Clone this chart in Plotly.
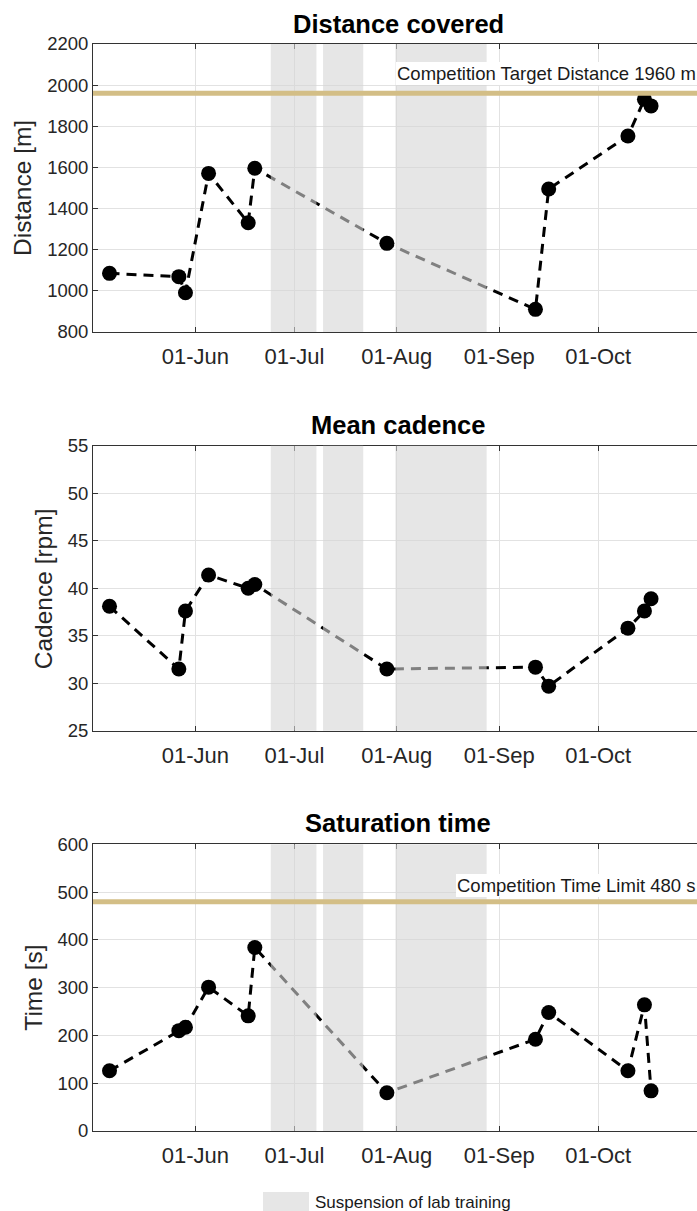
import plotly.graph_objects as go

# ---------------- data ----------------
session_dates = ["2020-05-06", "2020-05-27", "2020-05-29", "2020-06-05", "2020-06-17",
                 "2020-06-19", "2020-07-29", "2020-09-12", "2020-09-16", "2020-10-10",
                 "2020-10-15", "2020-10-17"]
distance_m = [1085, 1069, 991, 1571, 1331, 1596, 1231, 910, 1495, 1753, 1931, 1899]
cadence_rpm = [38.1, 31.5, 37.6, 41.4, 40.0, 40.4, 31.5, 31.7, 29.7, 35.8, 37.6, 38.9]
saturation_s = [126, 210, 217, 301, 241, 384, 80, 192, 248, 126, 264, 84]

suspension_start = ["2020-06-23 20:00", "2020-07-09 16:00", "2020-07-31 14:00"]
suspension_end = ["2020-07-07 16:00", "2020-07-21 20:00", "2020-08-28 05:00"]

target_distance = 1960
time_limit = 480

tick_dates = ["2020-06-01", "2020-07-01", "2020-08-01", "2020-09-01", "2020-10-01"]
x_range = ["2020-05-01", "2020-10-30 22:00"]

panels = [
    dict(title="Distance covered", ylabel="Distance [m]", values=distance_m,
         yrange=[800, 2200], dtick=200, dom=[0.72585, 0.96367], title_y=24, ylab_x=23,
         ref=target_distance, ref_label="Competition Target Distance 1960 m", ref_label_y=74),
    dict(title="Mean cadence", ylabel="Cadence [rpm]", values=cadence_rpm,
         yrange=[25, 55], dtick=5, dom=[0.39653, 0.63196], title_y=425, ylab_x=43,
         ref=None),
    dict(title="Saturation time", ylabel="Time [s]", values=saturation_s,
         yrange=[0, 600], dtick=100, dom=[0.06606, 0.30281], title_y=823, ylab_x=34,
         ref=time_limit, ref_label="Competition Time Limit 480 s", ref_label_y=885),
]

W, H = 697, 1211
L = 93
FONT = "Arial, Liberation Sans, Helvetica, sans-serif"
AX = "#333333"
GRID = "#e2e2e2"
SHADE = "rgba(213,213,213,0.6)"
GOLD = "#d3be86"

fig = go.Figure()
layout = dict(width=W, height=H, template="none",
              margin=dict(l=L, r=0, t=0, b=0, pad=0, autoexpand=False),
              paper_bgcolor="white", plot_bgcolor="white", showlegend=False,
              font=dict(family=FONT, color="#262626"))
shapes = []
annotations = []

def px_x(px):
    return (px - L) / (W - L)

def px_y(py):
    return 1 - py / H

for i, p in enumerate(panels, start=1):
    sfx = "" if i == 1 else str(i)
    xa, ya = "x" + sfx, "y" + sfx
    fig.add_trace(go.Scatter(
        x=session_dates, y=p["values"], xaxis=xa, yaxis=ya, mode="lines+markers",
        line=dict(color="black", width=3, dash="10px,7px"),
        marker=dict(color="black", size=15, line=dict(width=0)),
        hoverinfo="skip"))
    layout["xaxis" + sfx] = dict(
        domain=[0, 1], anchor=ya, type="date", range=x_range, automargin=False,
        tickmode="array", tickvals=tick_dates, tickformat="%d-%b",
        showgrid=True, gridcolor=GRID, gridwidth=1, zeroline=False,
        showline=True, linecolor=AX, linewidth=1, mirror="allticks",
        ticks="inside", ticklen=5, tickcolor=AX, ticklabelstandoff=5,
        tickfont=dict(size=22, color="#262626", family=FONT))
    layout["yaxis" + sfx] = dict(
        domain=p["dom"], anchor=xa, range=p["yrange"], dtick=p["dtick"], tick0=0,
        automargin=False,
        showgrid=True, gridcolor=GRID, gridwidth=1, zeroline=False,
        showline=True, linecolor=AX, linewidth=1, mirror=False,
        ticks="inside", ticklen=5, tickcolor=AX,
        tickfont=dict(size=18.5, color="#262626", family=FONT))
    for s0, s1 in zip(suspension_start, suspension_end):
        shapes.append(dict(type="rect", xref=xa, yref=ya + " domain", x0=s0, x1=s1,
                           y0=0, y1=1, fillcolor=SHADE, line=dict(width=0), layer="above"))
    if p["ref"] is not None:
        shapes.append(dict(type="line", xref=xa + " domain", yref=ya, x0=0, x1=1,
                           y0=p["ref"], y1=p["ref"], line=dict(color=GOLD, width=5),
                           layer="above"))
        annotations.append(dict(text=p["ref_label"], xref="paper", yref="paper",
                                x=1, y=px_y(p["ref_label_y"]), xanchor="right",
                                yanchor="middle", showarrow=False, bgcolor="white",
                                borderpad=1, borderwidth=0,
                                font=dict(size=18.5, color="#1a1a1a", family=FONT)))
    annotations.append(dict(text="<b>%s</b>" % p["title"], xref="paper", yref="paper",
                            x=px_x(398.3), y=px_y(p["title_y"]), xanchor="center",
                            yanchor="middle", showarrow=False,
                            font=dict(size=25.5, color="black", family=FONT)))
    annotations.append(dict(text=p["ylabel"], xref="paper", yref=ya + " domain",
                            x=px_x(p["ylab_x"]), y=0.5, xanchor="center", yanchor="middle",
                            textangle=-90, showarrow=False,
                            font=dict(size=24.5, color="#262626", family=FONT)))

# legend patch
shapes.append(dict(type="rect", xref="paper", yref="paper", x0=px_x(263), x1=px_x(309),
                   y0=px_y(1212), y1=px_y(1192), fillcolor="#e6e6e6", line=dict(width=0)))
annotations.append(dict(text="Suspension of lab training", xref="paper", yref="paper",
                        x=px_x(313), y=px_y(1202), xanchor="left", yanchor="middle",
                        showarrow=False, font=dict(size=17, color="#1a1a1a", family=FONT)))

layout["shapes"] = shapes
layout["annotations"] = annotations
fig.update_layout(**layout)
fig.write_html("out.html", config={"displayModeBar": False},
               post_script="document.body.style.margin='0';")
